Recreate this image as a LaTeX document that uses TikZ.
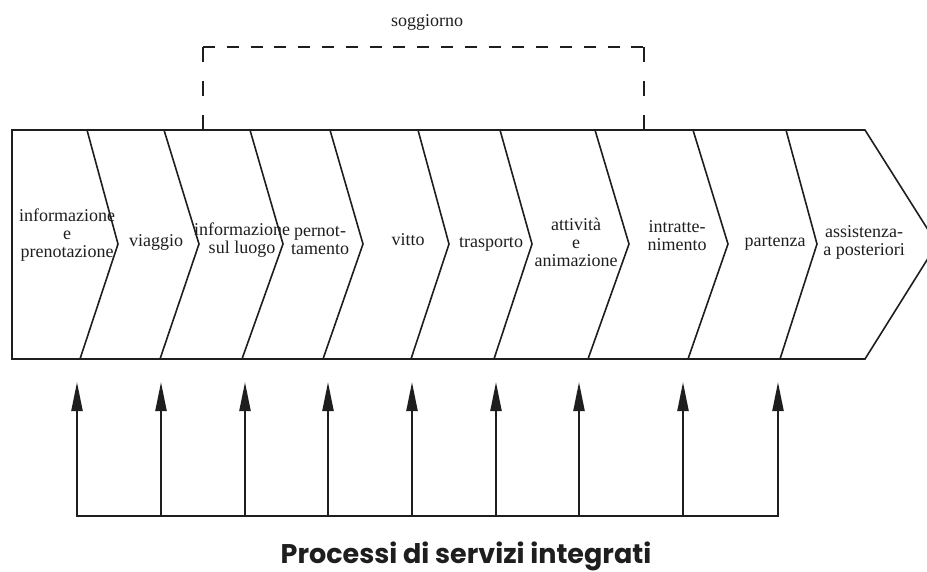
\documentclass[tikz,border=0pt]{standalone}
\usepackage{fontspec}
\setmainfont{Liberation Serif}
\newfontfamily\titlefont{Poppins}
\usetikzlibrary{arrows.meta}
\definecolor{ink}{HTML}{1E1E1E}
\newcommand{\Top}{130}
\newcommand{\Mid}{244}
\newcommand{\Bot}{359}
\newcommand{\Tips}{382}
\newcommand{\Base}{516}
\newcommand{\Roof}{47}

\begin{document}
\begin{tikzpicture}[x=1pt, y=-1pt, ink,
    outline/.style={line width=1.6pt, line join=miter},
    phase/.style={font=\fontsize{18}{18}\selectfont, align=center, inner sep=0pt},
    stay/.style={line width=2.2pt},
    feed/.style={line width=2.2pt, -{Triangle[length=29pt, width=11pt]}},
  ]
\useasboundingbox (0,0) rectangle (927,571);

% --- The chain: one long arrow cut into chevrons ---------------------------------
\draw[outline] (12,\Top) -- (865,\Top) -- (937,\Mid) -- (865,\Bot) -- (12,\Bot) -- cycle;
\foreach \t/\m/\b in {87/118/80, 164/199/160, 250/283/242, 330/363/323, 418/449/411,
                      500/532/494, 595/629/588, 693/728/688, 786/817/780} {
  \draw[outline] (\t,\Top) -- (\m,\Mid) -- (\b,\Bot);
}

% --- The phases ------------------------------------------------------------------
\node[phase] (info)   at (67,235)  {informazione\\e\\prenotazione};
\node[phase] (travel) at (156,242) {viaggio};
\node[phase] (local)  at (242,240) {informazione\\sul luogo};
\node[phase] (night)  at (320,241) {pernot-\\tamento};
\node[phase] (food)   at (408,240) {vitto};
\node[phase] (move)   at (491,244) {trasporto};
\node[phase] (act)    at (576,242) {attività\\e\\animazione};
\node[phase] (fun)    at (677,236) {intratte-\\nimento};
\node[phase] (leave)  at (775,243) {partenza};
\node[phase] (after)  at (864,242) {assistenza-\\a posteriori};

% --- The stay: a dashed bracket over the middle phases ----------------------------
\coordinate (stayL) at (203,\Top);
\coordinate (stayR) at (644,\Top);
\coordinate (roofL) at (203,\Roof);
\coordinate (roofR) at (644,\Roof);
\draw[stay, dash pattern=on 15pt off 19pt] (roofL) -- (stayL);
\draw[stay, dash pattern=on 15pt off 19pt] (roofR) -- (stayR);
\draw[stay, dash pattern=on 11.9pt off 11.9pt] (roofL) -- (roofR);
\node[font=\fontsize{18}{18}\selectfont, anchor=base] (stay) at (427,26) {soggiorno};

% --- The integrated services feeding each phase -----------------------------------
\foreach \x [count=\i] in {77, 161, 245, 328, 412, 496, 579, 683, 778} {
  \coordinate (in\i) at (\x,\Tips);
  \coordinate (out\i) at (\x,\Base);
  \draw[feed] (out\i) -- (in\i);
}
\draw[line width=2.6pt, line cap=rect] (out1) -- (out9);
\node[font=\titlefont\bfseries\fontsize{27}{27}\selectfont, anchor=base, inner sep=0pt] (title)
  at (466,563) {Processi di servizi integrati};
\end{tikzpicture}
\end{document}
